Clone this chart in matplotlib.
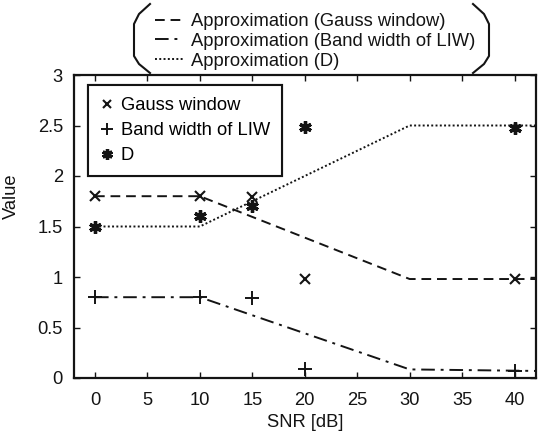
import matplotlib
matplotlib.use("Agg")
import matplotlib.pyplot as plt
from matplotlib.lines import Line2D

plt.rcParams['font.family'] = ['Liberation Sans', 'DejaVu Sans']

# measured values
snr = [0, 10, 15, 20, 40]
gauss = [1.8, 1.8, 1.79, 0.98, 0.98]
band = [0.8, 0.8, 0.79, 0.09, 0.07]
d_val = [1.5, 1.6, 1.7, 2.49, 2.48]

# piecewise approximations
approx_x = [0, 10, 30, 42]
approx_gauss = [1.8, 1.8, 0.98, 0.98]
approx_band = [0.8, 0.8, 0.085, 0.07]
approx_d = [1.5, 1.5, 2.5, 2.5]

xticks = [0, 5, 10, 15, 20, 25, 30, 35, 40]
yticks = [0, 0.5, 1, 1.5, 2, 2.5, 3]
ytick_labels = ['0', '0.5', '1', '1.5', '2', '2.5', '3']

W, H = 539, 438
fs = 13.2
fig = plt.figure(figsize=(W / 100, H / 100), dpi=100)
ax = fig.add_axes([74 / W, 1 - 378 / H, (535.5 - 74) / W, (378 - 75) / H])

ink = '#141414'
l1, = ax.plot(approx_x, approx_gauss, color=ink, lw=1.4, ls=(0, (5, 3)))
l2, = ax.plot(approx_x, approx_band, color=ink, lw=1.4, ls=(0, (7, 3, 1.5, 3)))
l3, = ax.plot(approx_x, approx_d, color=ink, lw=1.4, ls=(0, (1, 1.2)))

m1, = ax.plot(snr, gauss, ls='none', marker='x', ms=7, mew=1.5, color=ink)
m2, = ax.plot(snr, band, ls='none', marker='+', ms=10, mew=1.4, color=ink)
m3, = ax.plot(snr, d_val, ls='none', marker=(6, 2, 0), ms=9, mew=2.4, color=ink)

ax.set_xlim(-2, 42)
ax.set_ylim(0, 3)
ax.set_xticks(xticks)
ax.set_yticks(yticks)
ax.set_yticklabels(ytick_labels)
ax.tick_params(direction='in', top=True, right=True, length=4, width=1,
               labelsize=fs, colors=ink, pad=8)
ax.tick_params(axis='x', pad=10)
for s in ax.spines.values():
    s.set_linewidth(1.6)
    s.set_color(ink)

ax.set_xlabel('SNR [dB]', fontsize=fs, color=ink)
ax.xaxis.set_label_coords(0.5, -0.12)
ax.set_ylabel('Value', fontsize=fs, color=ink)
ax.yaxis.set_label_coords(-0.118, 0.6)

leg = ax.legend([m1, m2, m3], ['Gauss window', 'Band width of LIW', 'D'],
                loc='upper left', bbox_to_anchor=((88 - 74) / (535.5 - 74), 1 - (85 - 75) / 303),
                fontsize=fs, handlelength=0.8, handletextpad=0.35, labelspacing=0.45,
                borderpad=0.65, borderaxespad=0, fancybox=False, framealpha=1,
                edgecolor=ink, markerscale=0.85)
leg.get_frame().set_linewidth(1.5)
ax.add_artist(leg)

fig.legend([l1, l2, l3],
           ['Approximation (Gauss window)', 'Approximation (Band width of LIW)',
            'Approximation (D)'],
           loc='upper left', bbox_to_anchor=(155 / W, 1 - 13 / H),
           fontsize=fs, frameon=False, handlelength=1.5, handletextpad=0.45,
           labelspacing=0.15, borderpad=0, borderaxespad=0, labelcolor=ink)

# brackets around the approximation legend
lx = [150, 139, 134, 134, 139, 150]
rx = [473, 484, 489, 489, 484, 473]
by = [4, 14, 24, 56, 64, 73]
fig.add_artist(Line2D([v / W for v in lx], [1 - v / H for v in by],
                      transform=fig.transFigure, color=ink, lw=1.5))
fig.add_artist(Line2D([v / W for v in rx], [1 - v / H for v in by],
                      transform=fig.transFigure, color=ink, lw=1.5))

fig.savefig('out.png', dpi=100)
